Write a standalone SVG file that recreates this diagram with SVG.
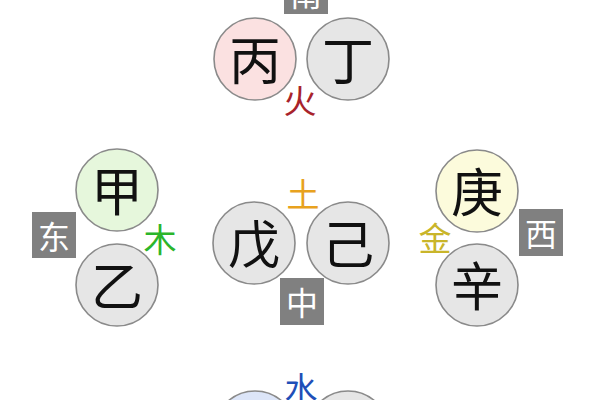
<svg xmlns="http://www.w3.org/2000/svg" width="600" height="400" viewBox="0 0 600 400">
<style>
.c{stroke:#8a8a8a;stroke-width:1.6}
.g{fill:#e6e6e6}
.t{font-family:"Noto Sans CJK SC","Noto Sans CJK JP",sans-serif;font-size:52px;fill:#111;text-anchor:middle;dominant-baseline:central}
.l{font-family:"Noto Sans CJK SC","Noto Sans CJK JP",sans-serif;font-size:33px;text-anchor:middle;dominant-baseline:central}
.b{fill:#808080}
.bt{font-family:"Noto Sans CJK SC","Noto Sans CJK JP",sans-serif;font-size:32px;fill:#fff;text-anchor:middle;dominant-baseline:central}
</style>
<rect width="600" height="400" fill="#fff"/>
<g id="bing"><circle class="c" cx="255" cy="59" r="41" fill="#fbe1e1"/><text class="t" x="255" y="57">丙</text></g>
<g id="ding"><circle class="c g" cx="348" cy="59" r="41"/><text class="t" x="348" y="57">丁</text></g>
<g id="jia"><circle class="c" cx="117" cy="190" r="41" fill="#e6f7dc"/><text class="t" x="117" y="188">甲</text></g>
<g id="yi"><circle class="c g" cx="117" cy="285" r="41"/><text class="t" x="117" y="283">乙</text></g>
<g id="wu"><circle class="c g" cx="254" cy="243" r="41"/><text class="t" x="254" y="241">戊</text></g>
<g id="ji"><circle class="c g" cx="348" cy="243" r="41"/><text class="t" x="348" y="241">己</text></g>
<g id="geng"><circle class="c" cx="477" cy="191" r="41" fill="#fcfbdc"/><text class="t" x="477" y="189">庚</text></g>
<g id="xin"><circle class="c g" cx="477" cy="285" r="41"/><text class="t" x="477" y="283">辛</text></g>
<g id="ren"><circle class="c" cx="255" cy="432" r="41" fill="#dce5f8"/></g>
<g id="gui"><circle class="c g" cx="348" cy="432" r="41"/></g>
<g id="huo"><text class="l" x="300" y="99" fill="#a8232b">火</text></g>
<g id="mu"><text class="l" x="160" y="238" fill="#2bb52b">木</text></g>
<g id="tu"><text class="l" x="303" y="193" fill="#e8a21e">土</text></g>
<g id="jin"><text class="l" x="435" y="237" fill="#c9b52a">金</text></g>
<g id="shui"><text class="l" x="301" y="387" fill="#1f4fb8">水</text></g>
<g id="nan"><rect class="b" x="284" y="-30" width="44" height="44"/><text class="bt" x="306" y="-8">南</text></g>
<g id="dong"><rect class="b" x="32" y="212" width="44" height="46"/><text class="bt" x="54" y="235">东</text></g>
<g id="zhong"><rect class="b" x="280" y="278" width="44" height="47"/><text class="bt" x="302" y="301">中</text></g>
<g id="xi"><rect class="b" x="519" y="209" width="44" height="47"/><text class="bt" x="541" y="232">西</text></g>
</svg>
